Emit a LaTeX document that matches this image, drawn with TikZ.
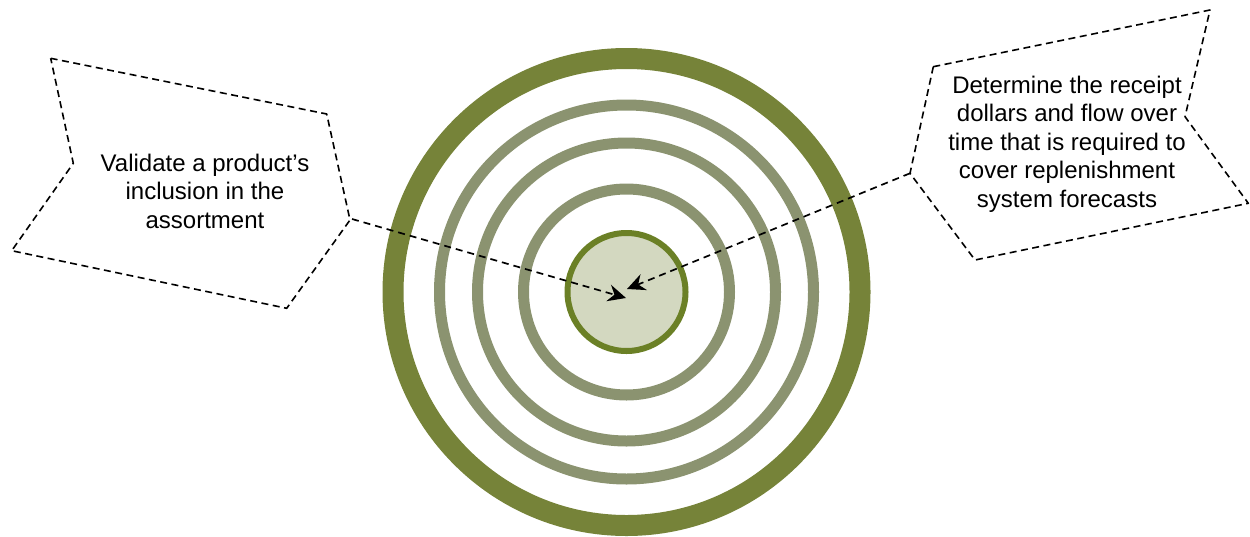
\documentclass[tikz,border=0pt]{standalone}
\usepackage{fontspec}
\setmainfont{Liberation Sans}
\usetikzlibrary{arrows.meta}
\definecolor{olivering}{RGB}{118,131,57}
\definecolor{grayring}{RGB}{139,147,112}
\definecolor{coreline}{RGB}{107,128,38}
\definecolor{corefill}{RGB}{211,216,192}
\tikzset{
  callout/.style={draw=black, line width=1.6pt, dash pattern=on 7pt off 4.5pt, line join=round},
  pointer/.style={draw=black, line width=1.7pt, dash pattern=on 7pt off 5pt, -{Stealth[length=18pt,width=17pt,inset=6pt]}},
  ctext/.style={align=center, font=\fontsize{24}{28.5}\selectfont, inner sep=0pt},
  graybend/.style={draw=grayring, line width=11pt},
}
\begin{document}
\begin{tikzpicture}[x=1pt,y=-1pt]
\useasboundingbox (0,0) rectangle (1250,536);
% rings
\draw[olivering, line width=21pt] (626.5,292) circle (233.5);
\draw[graybend] (626.5,292) circle (187);
\draw[graybend] (626.5,292) circle (149);
\draw[graybend] (626.5,292) circle (103);
\node[circle, draw=coreline, fill=corefill, line width=6pt, minimum size=118pt, inner sep=0pt] (core) at (626.5,292) {};
% callouts
\draw[callout] (50.7,58.3) -- (326.7,114) -- (350,220) -- (286.7,308.3) -- (11.7,250.7) -- (73.3,163.3) -- cycle;
\draw[callout] (933.3,66.7) -- (1210,10) -- (1185,116.7) -- (1248.3,203.3) -- (975,260) -- (910,173.3) -- cycle;
\node[ctext] (ltext) at (205,191) {Validate a product’s\\inclusion in the\\assortment};
\node[ctext] (rtext) at (1067,144) {Determine the receipt\\dollars and flow over\\time that is required to\\cover replenishment\\system forecasts};
\coordinate (lcorner) at (352,219);
\coordinate (rcorner) at (910,173.3);
\coordinate (ltip) at (626,298);
\coordinate (rtip) at (627,289);
\draw[pointer] (lcorner) -- (ltip);
\draw[pointer] (rcorner) -- (rtip);
\end{tikzpicture}
\end{document}
